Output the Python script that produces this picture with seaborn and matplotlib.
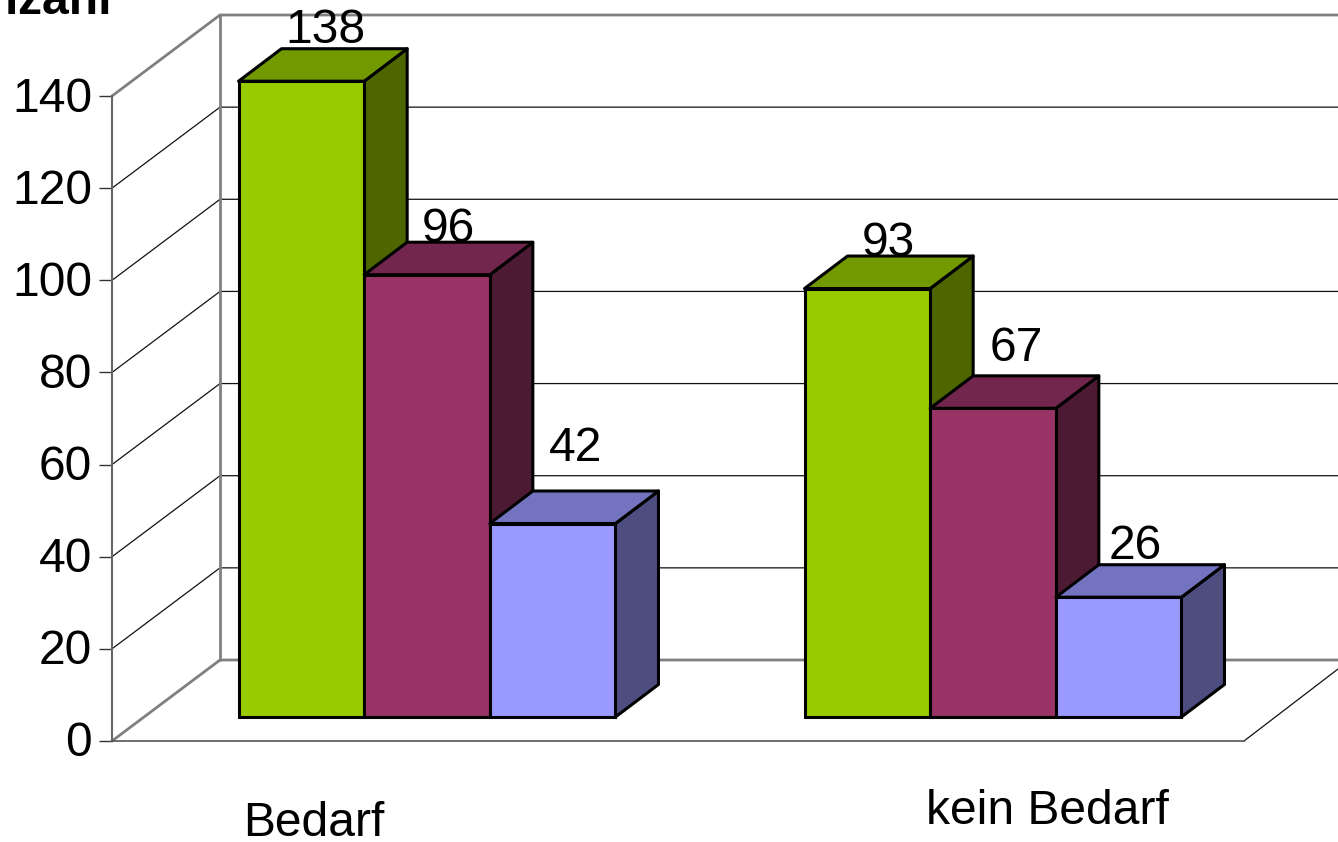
import matplotlib.pyplot as plt
import pandas as pd
import seaborn as sns
from matplotlib.patches import Polygon
from matplotlib.transforms import ScaledTranslation

categories = ["Bedarf", "kein Bedarf"]
series_a = [138, 93]
series_b = [96, 67]
series_c = [42, 26]
y_ticks = [0, 20, 40, 60, 80, 100, 120, 140]
y_title = "Anzahl"

face_colors = ["#99CC00", "#993366", "#9999FF"]
top_colors = ["#739900", "#73264D", "#7373BF"]
side_colors = ["#4D6600", "#4D1A33", "#4D4D80"]

# label offsets from bar centre / top, in pixels
label_dx = [24, 21, 23, 21, 23, 17]
label_dy = [51, 45, 75, 45, 60, 51]

W, H = 1338, 842
PX_PER_UNIT = 645 / 140
PX_PER_CAT = 566
EDGE_LW = 2.2

sns.set_theme(style="white")
plt.rcParams["font.family"] = ["Liberation Sans", "DejaVu Sans"]

df = pd.DataFrame({
    "Kategorie": categories * 3,
    "Gruppe": ["A"] * 2 + ["B"] * 2 + ["C"] * 2,
    "Anzahl": series_a + series_b + series_c,
})

fig = plt.figure(figsize=(W / 100, H / 100), dpi=100)

# axes frame and back wall, x in pixels from the front axis
frame = fig.add_axes([112 / W, (H - 741) / H, 1132 / W, 645 / H])
frame.set_xlim(0, 1132)
frame.set_ylim(0, 140)
frame.set_xticks([])
frame.set_yticks(y_ticks)
frame.tick_params(axis="y", left=True, length=9.4, width=1.0, color="#333333",
                  labelsize=34.6, pad=5, labelcolor="black")
# tick labels sit a touch above the tick
nudge = ScaledTranslation(0, 2 / 100, fig.dpi_scale_trans)
for label in frame.get_yticklabels():
    label.set_transform(label.get_transform() + nudge)
for name in ["top", "right"]:
    frame.spines[name].set_visible(False)
frame.spines["left"].set_color("#666666")
frame.spines["left"].set_linewidth(1.5)
frame.spines["bottom"].set_color("#555555")
frame.spines["bottom"].set_linewidth(1.2)

wall_dx = 108
wall_dy = 81 / PX_PER_UNIT
right_end = W - 112
for value in y_ticks:
    edge = value in (0, 140)
    color = "#808080" if edge else "#111111"
    lw = 2.0 if edge else 0.9
    frame.plot([0, wall_dx, right_end], [value, value + wall_dy, value + wall_dy],
               color=color, lw=lw, clip_on=False, solid_joinstyle="miter")
frame.plot([wall_dx, wall_dx], [wall_dy, 140 + wall_dy], color="#808080", lw=2.0, clip_on=False)
frame.plot([1132, right_end], [0, 72 / PX_PER_UNIT], color="#111111", lw=0.9, clip_on=False)
frame.text(0, (741 - 14) / PX_PER_UNIT, y_title, ha="right", va="baseline",
           fontsize=34.6, fontweight="bold", color="black")

# bars on their own axes, the floor sits a little behind the front axis
ax = fig.add_axes([0, 0, 1, 1])
ax.patch.set_alpha(0)
sns.barplot(data=df, x="Kategorie", y="Anzahl", hue="Gruppe", palette=face_colors,
            width=0.666, gap=0, saturation=1, edgecolor="black", linewidth=EDGE_LW,
            legend=False, ax=ax)
ax.set_xlim(-427 / PX_PER_CAT, (W - 427) / PX_PER_CAT)
ax.set_ylim(-(H - 717) / PX_PER_UNIT, 717 / PX_PER_UNIT)
ax.axis("off")

depth_x = 43 / PX_PER_CAT
depth_y = 32.5 / PX_PER_UNIT
bars = sorted(ax.patches, key=lambda p: p.get_x())
for i, bar in enumerate(bars):
    x0, x1 = bar.get_x(), bar.get_x() + bar.get_width()
    top = bar.get_height()
    z = 3 + i
    kind = i % 3
    side = Polygon([(x1, 0), (x1 + depth_x, depth_y), (x1 + depth_x, top + depth_y), (x1, top)],
                   facecolor=side_colors[kind], edgecolor="black", lw=EDGE_LW, zorder=z,
                   joinstyle="round")
    roof = Polygon([(x0, top), (x0 + depth_x, top + depth_y), (x1 + depth_x, top + depth_y), (x1, top)],
                   facecolor=top_colors[kind], edgecolor="black", lw=EDGE_LW, zorder=z,
                   joinstyle="round")
    ax.add_patch(side)
    ax.add_patch(roof)
    bar.set_zorder(z + 0.5)
    ax.annotate(str(int(top)), ((x0 + x1) / 2, top), xytext=(label_dx[i], label_dy[i]),
                textcoords="offset pixels", ha="center", va="center",
                fontsize=34.6, color="black", zorder=2)

ax.text(-113 / PX_PER_CAT, -107 / PX_PER_UNIT, categories[0], ha="center", va="center",
        fontsize=34.6, color="black")
ax.text(1 + 54 / PX_PER_CAT, -95 / PX_PER_UNIT, categories[1], ha="center", va="center",
        fontsize=34.6, color="black")

fig.savefig("out.png", dpi=100)
